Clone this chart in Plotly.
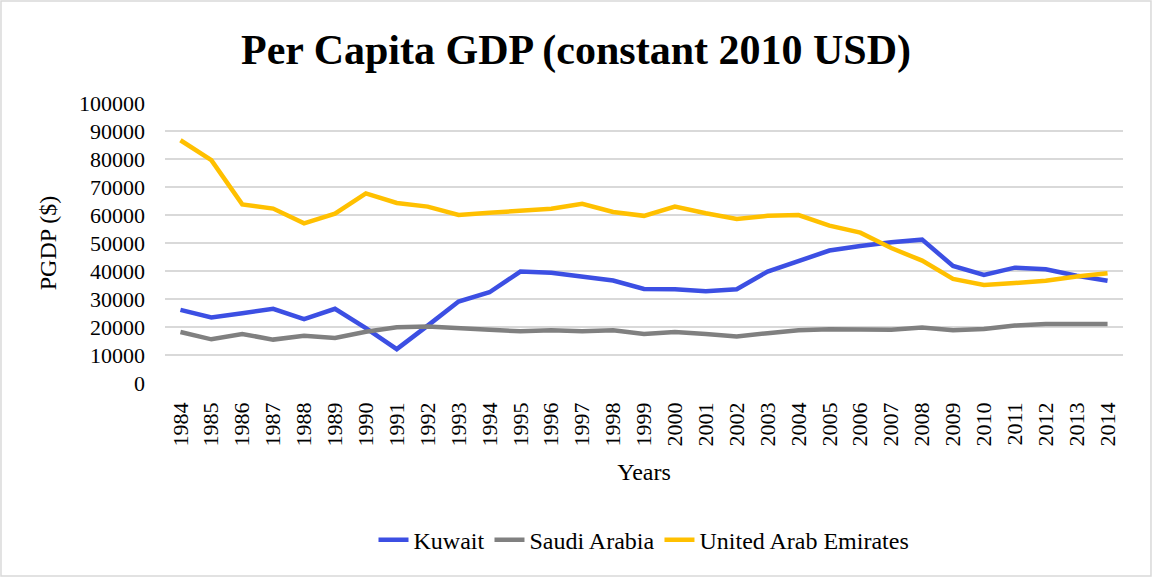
import plotly.graph_objects as go

years = [str(y) for y in range(1984, 2015)]
kuwait = [26100, 23400, 24900, 26500, 22800, 26500, 19600, 12100, 20500, 29100, 32400,
          39800, 39400, 38000, 36600, 33600, 33500, 32800, 33500, 39800, 43700, 47300,
          48900, 50300, 51200, 41800, 38600, 41200, 40600, 38300, 36500]
saudi = [18200, 15600, 17500, 15500, 16900, 16100, 18300, 19900, 20200, 19400, 19000,
         18500, 18800, 18500, 18800, 17500, 18200, 17500, 16600, 17800, 18800, 19200,
         19200, 19000, 19800, 18800, 19300, 20500, 21100, 20900, 21100]
uae = [86700, 79600, 63800, 62300, 57000, 60500, 67700, 64300, 63000, 60000, 60800,
       61600, 62200, 64000, 61100, 59700, 63000, 60600, 58600, 59700, 60000, 56200,
       53700, 48200, 43700, 37200, 35000, 35700, 36500, 38000, 39200]

series = [("Kuwait", kuwait, "#3c4fe3"), ("Saudi Arabia", saudi, "#808080"),
          ("United Arab Emirates", uae, "#ffc000")]

fig = go.Figure()
for name, vals, col in series:
    fig.add_trace(go.Scatter(x=years, y=vals, name=name, mode="lines",
                             line=dict(color=col, width=4.5)))

serif = "Liberation Serif, Times New Roman, serif"
fig.update_layout(
    width=1152, height=577,
    margin=dict(l=165, r=29, t=103, b=194),
    paper_bgcolor="white", plot_bgcolor="white",
    font=dict(family=serif, color="black", size=22),
    title=dict(text="<b>Per Capita GDP (constant 2010 USD)</b>", x=0.5, xanchor="center",
               y=0.915, yanchor="middle", font=dict(size=42, family=serif, color="black")),
    xaxis=dict(type="category", range=[-0.5, 30.5], tickangle=-90, showgrid=False,
               showline=False, ticks="", tickfont=dict(size=22), ticklabelstandoff=14,
               title=dict(text="Years", font=dict(size=24), standoff=17)),
    yaxis=dict(range=[0, 100000], dtick=10000, showgrid=True, gridcolor="#d9d9d9",
               gridwidth=1.5, zeroline=False, showline=False, ticks="",
               tickformat="d", tickfont=dict(size=22), ticklabelstandoff=19,
               title=dict(text="PGDP ($)", font=dict(size=24), standoff=15)),
    legend=dict(orientation="h", x=0.5, xanchor="center", y=-0.561, yanchor="middle",
                font=dict(size=24), tracegroupgap=0),
    showlegend=True,
    shapes=[dict(type="rect", xref="paper", yref="paper", x0=-0.1712, x1=1.0292,
                 y0=-0.689, y1=1.364, line=dict(color="#d9d9d9", width=1.5))],
)

fig.write_html("out.html")
